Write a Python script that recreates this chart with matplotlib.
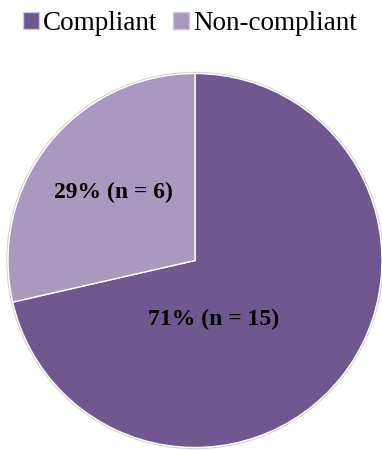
import matplotlib
matplotlib.use("Agg")
import matplotlib.pyplot as plt
import numpy as np
from matplotlib.patches import Patch, Circle

categories = ["Compliant", "Non-compliant"]
counts = [15, 6]
colors = ["#70578F", "#A999BE"]

plt.rcParams['font.family'] = ['Liberation Serif', 'DejaVu Serif']

fig = plt.figure(figsize=(3.82, 4.5), dpi=100)
ax = fig.add_axes([0, 0, 1, 1])

cx, cy, r = 195.0, 189.5, 187.0
# subtle shadow/outline
ax.add_patch(Circle((cx, cy), r + 1.0, facecolor='none', edgecolor='#D2D2D2', linewidth=1.0, zorder=0))
wedges, _ = ax.pie(counts, colors=colors, startangle=90, counterclock=False,
                   center=(cx, cy), radius=r, frame=True,
                   wedgeprops=dict(edgecolor='white', linewidth=1.0))
ax.set_xlim(0, 382)
ax.set_ylim(0, 450)
ax.set_aspect('equal')
ax.axis('off')

total = sum(counts)
# label placement (fraction of radius, angle in degrees)
label_pos = [(0.33, -72.7), (0.568, 140.0)]
for c, (fr, ang) in zip(counts, label_pos):
    pct = round(100 * c / total)
    x = cx + fr * r * np.cos(np.radians(ang))
    y = cy + fr * r * np.sin(np.radians(ang))
    ax.text(x, y, f"{pct}% (n = {c})", ha='center', va='center',
            fontsize=17, fontweight='bold', color='black')

handles = [Patch(facecolor=col, edgecolor='#D0C8DA', label=lab) for col, lab in zip(colors, categories)]
fig.legend(handles=handles, loc='center', bbox_to_anchor=(0.497, 0.947), ncol=2,
           frameon=False, fontsize=19.5, handlelength=0.58, handleheight=0.58,
           handletextpad=0.15, columnspacing=0.6, borderaxespad=0)

fig.savefig("out.png", dpi=100)
